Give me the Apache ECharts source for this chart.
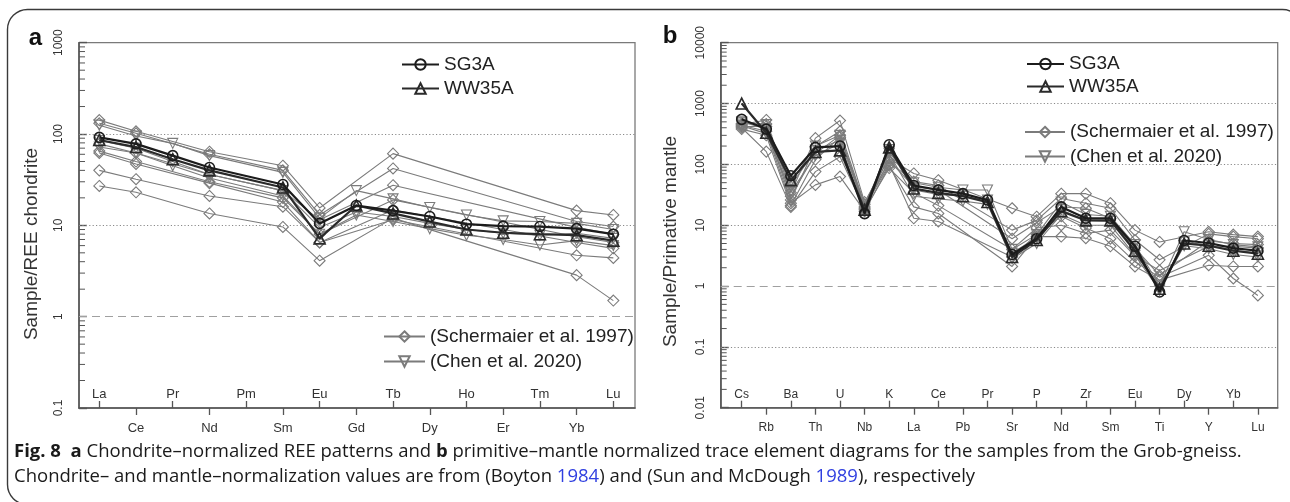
<!DOCTYPE html>
<html><head><meta charset="utf-8">
<script src="https://cdn.jsdelivr.net/npm/echarts@6/dist/echarts.min.js"></script>
<style>html,body{margin:0;padding:0;background:#fff}#c{width:1290px;height:502px}</style>
</head><body><div id="c"></div>
<script>
// ---------- categories ----------
const reeElements = ['La','Ce','Pr','Nd','Pm','Sm','Eu','Gd','Tb','Dy','Ho','Er','Tm','Yb','Lu'];
const traceElements = ['Cs','Rb','Ba','Th','U','Nb','K','La','Ce','Pb','Pr','Sr','P','Nd','Zr','Sm','Eu','Ti','Dy','Y','Yb','Lu'];
const yTicksA = [0.1, 1, 10, 100, 1000];
const yTicksB = [0.01, 0.1, 1, 10, 100, 1000, 10000];

// ---------- panel a: chondrite-normalised REE ----------
//                La   Ce   Pr   Nd  Pm   Sm   Eu   Gd   Tb   Dy   Ho   Er   Tm   Yb   Lu
const reeSG3A  = [92,  78,  58,  43, null, 28, 10.5, 16.5, 14.5, 12.5, 10.3, 9.8, 9.7, 9.2, 8.0];
const reeWW35A = [86,  72,  53,  40, null, 26, 7.2, 16.5, 13.5, 11.0, 9.0, 8.3, 8.0, 7.8, 6.8];
const reeSch1 = [142, 107, null, 64, null, 45, 15.5, null, 61, null, null, null, null, 14.5, 13.0];
const reeSch2 = [131, 102, null, 60, null, 40, 13.0, null, 42, null, null, null, null, 11.0, 9.7];
const reeSch3 = [78,  62, null, 36, null, 24, 11.5, null, 27.5, null, null, null, null, 9.5, 8.0];
const reeSch4 = [65,  50, null, 30, null, 20, 8.0, null, 19, null, null, null, null, 7.5, 6.5];
const reeSch5 = [62,  47, null, 29, null, 18, 6.5, null, 14.7, null, null, null, null, 6.5, 5.6];
const reeSch6 = [40,  32, null, 21, null, 16, 6.5, null, 11.5, null, null, null, null, 4.7, 4.4];
const reeSch7 = [27,  23, null, 13.5, null, 9.6, 4.1, null, 12, null, null, null, null, 2.85, 1.5];
const reeChen1 = [125, 95, 79, 58, null, 38, 12.0, 24, 19.5, 15.7, 13.0, 11.2, 11.0, 10.5, 9.0];
const reeChen2 = [85,  70, 50, 36, null, 24, 9.5, 14, 12.5, 10.5, 9.0, 8.2, 7.8, 8.2, 7.2];
const reeChen3 = [72,  62, 45, 33, null, 21, 8.0, 13, 11.0, 9.2, 7.8, 7.0, 6.1, 6.8, 6.0];

// ---------- panel b: primitive-mantle normalised trace elements ----------
//               Cs    Rb   Ba   Th   U    Nb   K    La  Ce  Pb   Pr   Sr   P    Nd  Zr  Sm  Eu   Ti   Dy   Y    Yb   Lu
const trSG3A  = [550,  380, 65, 190, 200, 15.5, 210, 45, 38, 33,  26,  3.3, 6.0, 20, 13, 13, 4.5, 0.80, 5.6, 5.1, 4.2, 3.8];
const trWW35A = [1000, 330, 55, 160, 170, 18,  190, 40, 34, 30,  24,  3.0, 5.7, 17, 12, 12, 3.8, 0.90, 5.0, 4.6, 3.8, 3.4];
const trSch1 = [450, 537, 34, 270, 525, 24, 125, 71, 55, null, null, 19, 13.8, 33, 33, 23, 8.3, 5.3, null, 7.8, 7.0, 6.5];
const trSch2 = [420, 420, 26, 196, 350, 22, 110, 52, 45, null, null, 8.3, 12, 27.5, 23, 19, 5.7, 2.7, null, 7.2, 6.5, 6.0];
const trSch3 = [400, 162, 20, 76, 133, 18, 87, 34, 21, null, null, 4.0, 9.0, 10, 7.3, 8.3, 3.1, 1.8, null, 4.5, 4.5, 4.2];
const trSch4 = [440, 350, 23, 46, 63, 17, 95, 20, 15.6, null, null, 2.1, 6.5, 6.5, 6.1, 4.5, 2.1, 1.25, null, 2.2, 2.1, 2.1];
const trSch5 = [380, 300, 21, 120, 280, 20, 100, 13, 11.5, null, null, 3.0, 7.0, 14, 9.0, 6.0, 2.5, 1.4, null, 3.2, 1.33, 0.7];
const trSch6 = [470, 460, 30, 150, 300, 19, 115, 43, 38, null, null, 6.0, 11, 20, 19, 13, 4.2, 1.5, null, 5.5, 5.0, 4.8];
const trChen1 = [480, 450, 50, 200, 300, 22, 160, 50, 42, 38, 38, 4.0, 7.0, 24, 15, 14, 4.8, 1.0, 7.8, 5.8, 4.8, 4.4];
const trChen2 = [500, 380, 45, 170, 250, 19, 175, 38, 32, 30, 26, 3.5, 6.2, 18, 12, 11.5, 3.6, 0.9, 5.3, 4.7, 3.9, 3.5];
const trChen3 = [430, 320, 35, 140, 220, 17, 150, 30, 27, 25, 22, 2.8, 5.0, 15, 10, 10, 3.2, 0.85, 4.6, 4.1, 3.3, 3.0];

// ---------- caption ----------
const captionLine1 = '{b|Fig. 8}  {b|a} Chondrite–normalized REE patterns and {b|b} primitive–mantle normalized trace element diagrams for the samples from the Grob-gneiss.';
const captionLine2 = 'Chondrite– and mantle–normalization values are from (Boyton {u|1984}) and (Sun and McDough {u|1989}), respectively';

const nameSG = 'SG3A', nameWW = 'WW35A', nameSch = '(Schermaier et al. 1997)', nameChen = '(Chen et al. 2020)';
const FONT = 'Liberation Sans';
const XA = [-0.553, 14.59], XB = [-0.854, 21.806];

function pairs(vals){ return vals.map((v,i)=> v==null ? null : [i, v]).filter(p=>p); }

const styles = {
  sg:   {symbol:'circle', symbolSize:10, symbolRotate:0, line:'#1c1c1c', w:2.2, bw:1.6, z:6},
  ww:   {symbol:'triangle', symbolSize:11, symbolRotate:0, line:'#2a2a2a', w:2.2, bw:1.6, z:5},
  sch:  {symbol:'diamond', symbolSize:11, symbolRotate:0, line:'#7b7b7b', w:1.1, bw:1.1, z:2},
  chen: {symbol:'triangle', symbolSize:10, symbolRotate:180, line:'#7b7b7b', w:1.1, bw:1.1, z:3}
};

function mk(name, vals, panel, kind, extra){
  const s = styles[kind];
  return Object.assign({
    type:'line', name, data: pairs(vals),
    xAxisIndex: panel === 0 ? 0 : 2, yAxisIndex: panel,
    symbol: s.symbol, symbolSize: s.symbolSize, symbolRotate: s.symbolRotate,
    showAllSymbol: true, z: s.z, silent: true, animation: false,
    lineStyle: {color: s.line, width: s.w},
    itemStyle: {color: 'rgba(255,255,255,0)', borderColor: s.line, borderWidth: s.bw},
    emphasis: {disabled: true}
  }, extra || {});
}

function gridLines(values){
  return {silent:true, symbol:'none', label:{show:false}, animation:false,
    data: values.map(v => ({yAxis: v, lineStyle: v === 1 ? {type:[8,5], color:'#a0a0a0', width:1} : {type:[1.2,2.2], color:'#8a8a8a', width:1}}))};
}

// minor log ticks (2..9 within each decade), drawn on the library's log scale
function minorTicks(ticks){
  const out = [];
  for (let i = 0; i < ticks.length - 1; i++) for (let m = 2; m <= 9; m++) out.push(+(ticks[i] * m).toPrecision(6));
  return out;
}
function minorTickSeries(panel, xmin, ticks){
  return {type:'custom', silent:true, z:7, clip:false, animation:false,
    xAxisIndex: panel === 0 ? 0 : 2, yAxisIndex: panel,
    data: minorTicks(ticks).map(v => [xmin, v]),
    renderItem: (params, api) => {
      const p = api.coord([api.value(0), api.value(1)]);
      return {type:'line', shape:{x1:p[0], y1:p[1], x2:p[0] + 6, y2:p[1]}, style:{stroke:'#555', lineWidth:1}};
    }};
}

const series = [
  mk(nameSch, reeSch1, 0, 'sch', {markLine: gridLines([10, 100, 1])}),
  mk(nameSch, reeSch2, 0, 'sch'), mk(nameSch, reeSch3, 0, 'sch'), mk(nameSch, reeSch4, 0, 'sch'),
  mk(nameSch, reeSch5, 0, 'sch'), mk(nameSch, reeSch6, 0, 'sch'), mk(nameSch, reeSch7, 0, 'sch'),
  mk(nameChen, reeChen1, 0, 'chen'), mk(nameChen, reeChen2, 0, 'chen'), mk(nameChen, reeChen3, 0, 'chen'),
  mk(nameWW, reeWW35A, 0, 'ww'), mk(nameSG, reeSG3A, 0, 'sg'),
  mk(nameSch, trSch1, 1, 'sch', {markLine: gridLines([0.1, 1, 10, 100, 1000])}),
  mk(nameSch, trSch2, 1, 'sch'), mk(nameSch, trSch3, 1, 'sch'), mk(nameSch, trSch4, 1, 'sch'),
  mk(nameSch, trSch5, 1, 'sch'), mk(nameSch, trSch6, 1, 'sch'),
  mk(nameChen, trChen1, 1, 'chen'), mk(nameChen, trChen2, 1, 'chen'), mk(nameChen, trChen3, 1, 'chen'),
  mk(nameWW, trWW35A, 1, 'ww'), mk(nameSG, trSG3A, 1, 'sg'),
  minorTickSeries(0, XA[0], yTicksA), minorTickSeries(1, XB[0], yTicksB)
];

function xAxes(gridIndex, names, ext, fontSize){
  const idx = names.map((_, i) => i);
  const inner = idx.filter(i => i % 2 === 0), outer = idx.filter(i => i % 2 === 1);
  const base = {type:'value', gridIndex, min: ext[0], max: ext[1], position:'bottom', splitLine:{show:false}};
  const lab = {fontSize, color:'#333', fontFamily: FONT, formatter: v => names[Math.round(v)] || ''};
  return [
    Object.assign({}, base, {
      axisLine:{show:true, onZero:false, lineStyle:{color:'#555', width:1.6}},
      axisTick:{show:true, inside:true, length:7, customValues: inner, lineStyle:{color:'#555', width:1.3}},
      axisLabel:Object.assign({inside:true, margin:7, customValues: inner}, lab)
    }),
    Object.assign({}, base, {
      axisLine:{show:false, onZero:false},
      axisTick:{show:true, inside:false, length:7, customValues: outer, lineStyle:{color:'#555', width:1.3}},
      axisLabel:Object.assign({inside:false, margin:14, customValues: outer}, lab)
    })
  ];
}

function yAxis(gridIndex, ticks){
  return {type:'log', logBase:10, gridIndex, min: ticks[0], max: ticks[ticks.length-1], splitNumber:10,
    axisLine:{show:true, onZero:false, lineStyle:{color:'#555', width:1.6}},
    axisTick:{show:true, inside:true, length:8, lineStyle:{color:'#555', width:1.4}},
    splitLine:{show:false},
    axisLabel:{rotate:90, margin:14, fontSize:12, color:'#333', fontFamily: FONT,
      formatter: v => { const t = ticks.find(x => Math.abs(Math.log10(x) - Math.log10(v)) < 1e-6); return t != null ? String(t) : ''; }}
  };
}

const legendBase = {orient:'vertical', padding:0, itemHeight:13, selectedMode:false,
  textStyle:{fontSize:19, color:'#222', fontFamily: FONT}};

const CAP = {fontFamily:'Open Sans', fontSize:18.5, fill:'#1a1a1a'};

const option = {
  animation:false,
  backgroundColor:'#fff',
  grid:[
    {left:79, top:42.7, width:556, height:365.3, show:true, borderColor:'#7a7a7a', borderWidth:1.3},
    {left:720.7, top:42.7, width:557, height:365, show:true, borderColor:'#7a7a7a', borderWidth:1.3}
  ],
  xAxis: xAxes(0, reeElements, XA, 13).concat(xAxes(1, traceElements, XB, 12)),
  yAxis: [yAxis(0, yTicksA), yAxis(1, yTicksB)],
  legend:[
    Object.assign({}, legendBase, {data:[nameSG, nameWW], left:401, top:55, itemWidth:37, itemGap:5}),
    Object.assign({}, legendBase, {data:[nameSch, nameChen], left:383, top:327, itemWidth:41, itemGap:6}),
    Object.assign({}, legendBase, {data:[nameSG, nameWW], left:1026, top:54.5, itemWidth:37, itemGap:3.5}),
    Object.assign({}, legendBase, {data:[nameSch, nameChen], left:1024, top:122.5, itemWidth:40, itemGap:5.5})
  ],
  graphic:[
    {type:'rect', silent:true, shape:{x:7.5, y:9.5, width:1295, height:495, r:20}, style:{fill:'none', stroke:'#3a3a3a', lineWidth:1.4}},
    {type:'text', silent:true, x:35.5, y:38, style:{text:'a', font:'bold 24px "Liberation Sans"', fill:'#111', align:'center', verticalAlign:'middle'}},
    {type:'text', silent:true, x:670, y:36, style:{text:'b', font:'bold 24px "Liberation Sans"', fill:'#111', align:'center', verticalAlign:'middle'}},
    {type:'text', silent:true, x:32, y:244, rotation:Math.PI/2, style:{text:'Sample/REE chondrite', font:'19px "Liberation Sans"', fill:'#333', align:'center', verticalAlign:'middle'}},
    {type:'text', silent:true, x:671, y:241.5, rotation:Math.PI/2, style:{text:'Sample/Primative mantle', font:'19px "Liberation Sans"', fill:'#333', align:'center', verticalAlign:'middle'}},
    {type:'text', silent:true, x:14, y:452, style:Object.assign({text: captionLine1, verticalAlign:'middle',
      rich:{b:Object.assign({fontWeight:'bold'}, CAP)}}, CAP)},
    {type:'text', silent:true, x:14, y:477, style:Object.assign({text: captionLine2, verticalAlign:'middle',
      rich:{u:Object.assign({}, CAP, {fill:'#2f3fe0'})}}, CAP)}
  ],
  series
};

const chart = echarts.init(document.getElementById('c'), null, {renderer:'canvas'});
chart.setOption(option);
</script>
</body></html>
